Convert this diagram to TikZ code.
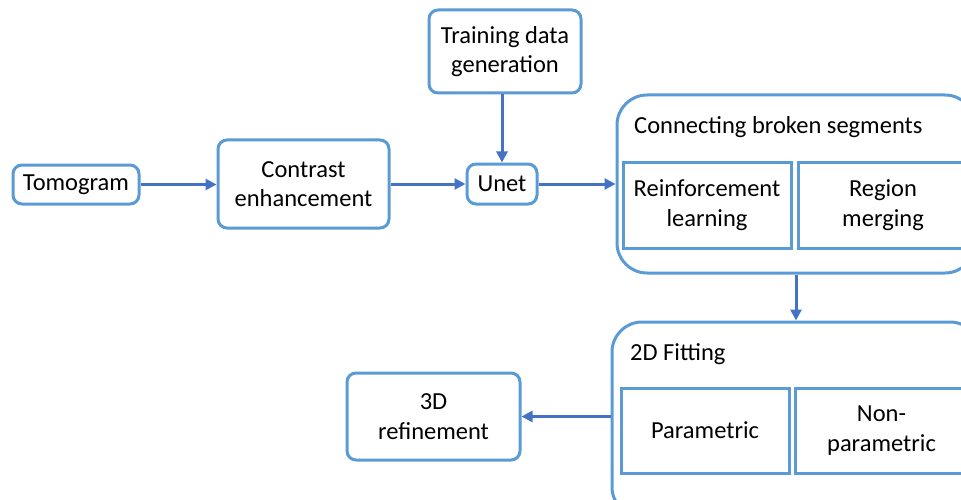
\documentclass[tikz,border=0pt]{standalone}
\usepackage{fontspec}
\setmainfont{Carlito}
\usetikzlibrary{arrows.meta}
\definecolor{boxblue}{HTML}{5B9BD5}
\definecolor{arrblue}{HTML}{4472C4}
\tikzset{
  txt/.style={font=\fontsize{24.5}{29.5}\selectfont, align=center, inner sep=0pt},
  box/.style={txt, draw=boxblue, line width=3pt, rounded corners=9pt},
  bigbox/.style={txt, draw=boxblue, line width=3pt, rounded corners=30pt},
  sqbox/.style={txt, draw=boxblue, line width=3pt},
  arr/.style={draw=arrblue, line width=3pt, -{Triangle[length=11pt,width=11pt]}}
}
\begin{document}
\begin{tikzpicture}[x=1pt,y=-1pt]
\useasboundingbox (0,0) rectangle (961,500);
\clip (0,0) rectangle (961,500);
\node[box, minimum width=126pt, minimum height=39pt] (tomo) at (76,184.5) {Tomogram};
\node[box, minimum width=171pt, minimum height=88pt] (contrast) at (303.5,184) {Contrast\\enhancement};
\node[box, minimum width=152pt, minimum height=83pt] (train) at (505,51.5) {Training data\\generation};
\node[box, minimum width=70pt, minimum height=40pt] (unet) at (502,184) {Unet};
\node[bigbox, minimum width=358pt, minimum height=178pt] (conn) at (796,184) {};
\node[txt, anchor=west] (connlab) at (634,127) {Connecting broken segments};
\node[sqbox, minimum width=168pt, minimum height=86pt] (rl) at (707,205) {Reinforcement\\learning};
\node[sqbox, minimum width=170pt, minimum height=86pt] (rm) at (883,205) {Region\\merging};
\node[bigbox, minimum width=368pt, minimum height=195pt] (fit) at (796,419.5) {};
\node[txt, anchor=west] (fitlab) at (630,354) {2D Fitting};
\node[sqbox, minimum width=168pt, minimum height=85pt] (par) at (705,430.5) {Parametric};
\node[sqbox, minimum width=173pt, minimum height=85pt] (npar) at (881.5,430.5) {Non-\\parametric};
\node[box, minimum width=173pt, minimum height=87pt] (ref) at (433.5,416.5) {3D\\refinement};
\draw[arr] (tomo.east) -- (tomo.east -| contrast.west);
\draw[arr] (contrast.east) -- (contrast.east -| unet.west);
\draw[arr] (unet.north |- train.south) -- (unet.north);
\draw[arr] (unet.east) -- (unet.east -| conn.west);
\draw[arr] (conn.south) -- (fit.north);
\draw[arr] (fit.west |- ref.east) -- (ref.east);
\end{tikzpicture}
\end{document}
